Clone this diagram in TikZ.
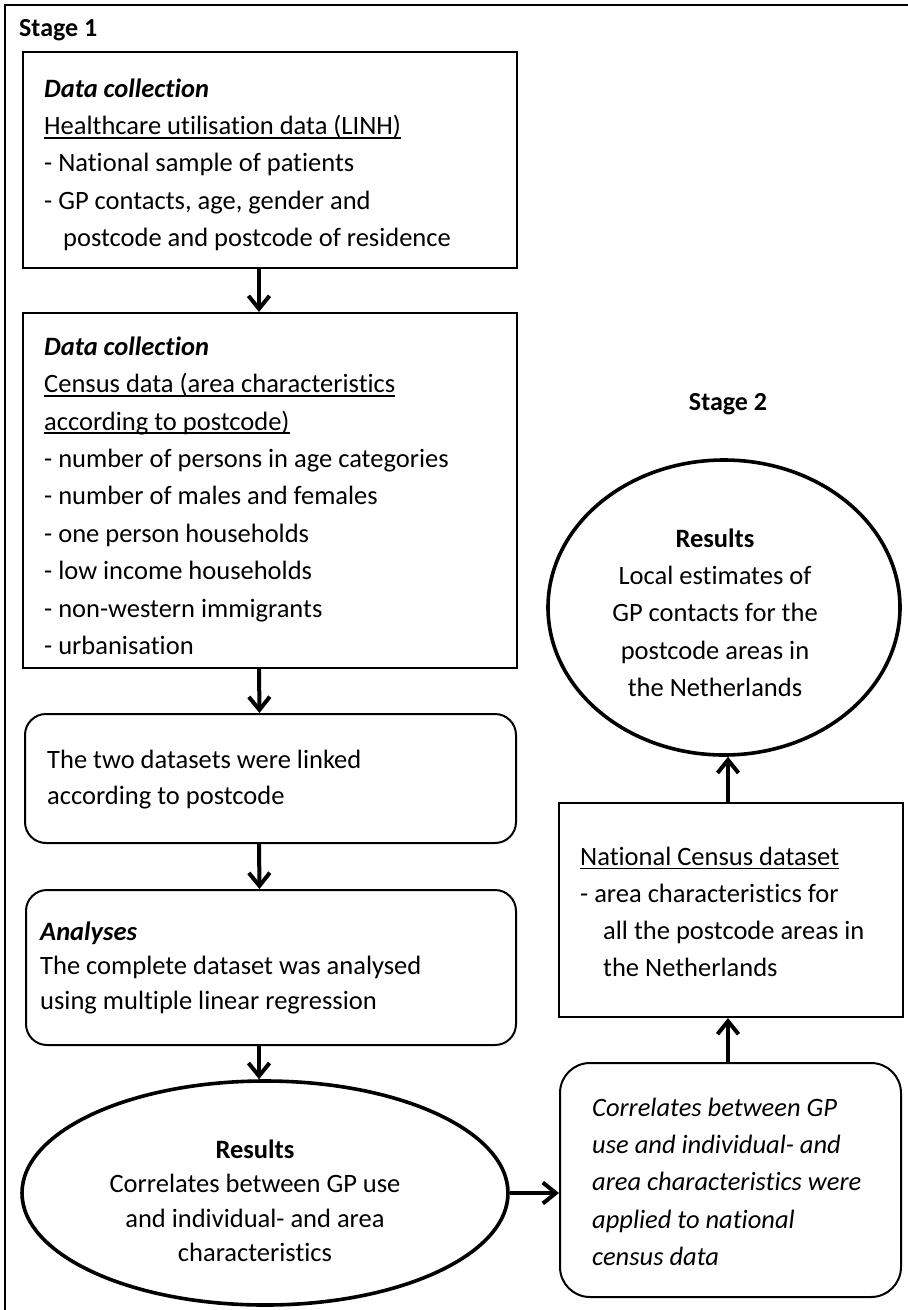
\documentclass[tikz,border=0pt]{standalone}
\usepackage{fontspec}
\setmainfont{Carlito}[Ligatures=NoCommon]
\usetikzlibrary{arrows.meta,shapes.geometric}

% underline drawn a little below the baseline, as in a word processor
\newsavebox{\ulsave}
\newcommand{\ulbox}[1]{\sbox{\ulsave}{#1}\rlap{\rule[-4pt]{\wd\ulsave}{1.6pt}}\usebox{\ulsave}}
% invisible strut that fixes the top of a text block above its first baseline
\newcommand{\topstrut}{\rule{0pt}{24pt}}

\begin{document}
\begin{tikzpicture}[x=1pt,y=-1pt,
  sqbox/.style={draw,line width=2pt,inner sep=0pt},
  rbox/.style={draw,line width=2pt,rounded corners=#1,inner sep=0pt},
  oval/.style={draw,ellipse,line width=3.6pt,inner sep=0pt},
  txt/.style={font=\fontsize{26.5}{#1}\selectfont,inner sep=0pt,align=left},
  ctxt/.style={font=\fontsize{26.5}{#1}\selectfont,inner sep=0pt,align=center},
  arr/.style={line width=4pt,-{Straight Barb[length=13pt,width=21pt]}},
  stagelabel/.style={font=\fontsize{26}{30}\selectfont\bfseries,inner sep=0pt}]

\useasboundingbox (0,0) rectangle (908,1310);

% frame of the figure (continues beyond the right and lower edges)
\draw[line width=2pt] (5,1310) -- (5,5) -- (908,5);

% ---- Stage 1 ----
\node[stagelabel,anchor=base west] (s1) at (19,36) {Stage 1};

\node[sqbox,minimum width=494pt,minimum height=216pt] (b1) at (270,160) {};
\node[txt=37.3,anchor=north west] (t1) at (44,73)
  {\topstrut\textbf{\textit{Data collection}}\\
   \ulbox{Healthcare utilisation data (LINH)}\\
   - National sample of patients\\
   - GP contacts, age, gender and\\
   \hspace*{19pt}postcode and postcode of residence};

\node[sqbox,minimum width=494pt,minimum height=355pt] (b2) at (270,490.5) {};
\node[txt=37.4,anchor=north west] (t2) at (44,331)
  {\topstrut\textbf{\textit{Data collection}}\\
   \ulbox{Census data (area characteristics}\\
   \ulbox{according to postcode)}\\
   - number of persons in age categories\\
   - number of males and females\\
   - one person households\\
   - low income households\\
   - non-western immigrants\\
   - urbanisation};

\node[rbox=21pt,minimum width=491pt,minimum height=129pt] (b3) at (270.5,778.5) {};
\node[txt=36,anchor=north west] (t3) at (47,744)
  {\topstrut The two datasets were linked\\
   according to postcode};

\node[rbox=21pt,minimum width=490pt,minimum height=155pt] (b4) at (271,967.5) {};
\node[txt=34.5,anchor=north west] (t4) at (40,916)
  {\topstrut\textbf{\textit{Analyses}}\\
   The complete dataset was analysed\\
   using multiple linear regression};

\node[oval,minimum width=486pt,minimum height=224pt] (e1) at (265,1193) {};
\node[ctxt=34.5,anchor=north] (t5) at (255,1134)
  {\topstrut\textbf{Results}\\
   Correlates between GP use\\
   and individual- and area\\
   characteristics};

% ---- Stage 2 ----
\node[stagelabel,anchor=base] (s2) at (728,410) {Stage 2};

\node[oval,minimum width=352pt,minimum height=295pt] (e2) at (724,607.5) {};
\node[ctxt=37.3,anchor=north] (t6) at (715,523)
  {\topstrut\textbf{Results}\\
   Local estimates of\\
   GP contacts for the\\
   postcode areas in\\
   the Netherlands};

\node[sqbox,minimum width=344pt,minimum height=214pt] (b5) at (731,910) {};
\node[txt=37,anchor=north west] (t7) at (580,841)
  {\topstrut\ulbox{National Census dataset}\\
   - area characteristics for\\
   \hspace*{23pt}all the postcode areas in\\
   \hspace*{23pt}the Netherlands};

\node[rbox=30pt,minimum width=341pt,minimum height=234pt] (b6) at (730.5,1180) {};
\node[txt=37.3,anchor=north west,font=\fontsize{26.5}{37.3}\selectfont\itshape] (t8) at (592,1092)
  {\topstrut Correlates between GP\\
   use and individual- and\\
   area characteristics were\\
   applied to national\\
   census data};

% ---- connectors ----
\draw[arr] ([xshift=-11pt]b1.south) -- ([xshift=-11pt]b2.north);
\draw[arr] ([xshift=-11pt]b2.south) -- ([xshift=-11pt]b3.north);
\draw[arr] ([xshift=-11.5pt]b3.south) -- ([xshift=-11.5pt]b4.north);
\draw[arr] ([xshift=-12pt]b4.south) -- ([xshift=-12pt]b4.south |- e1.north);
\draw[arr] (e1.east) -- (e1.east -| b6.west);
\draw[arr] ([xshift=-2.5pt]b6.north) -- ([xshift=-2.5pt]b6.north |- b5.south);
\draw[arr] ([xshift=-3pt]b5.north) -- ([xshift=-3pt]b5.north |- e2.south);

\end{tikzpicture}
\end{document}
